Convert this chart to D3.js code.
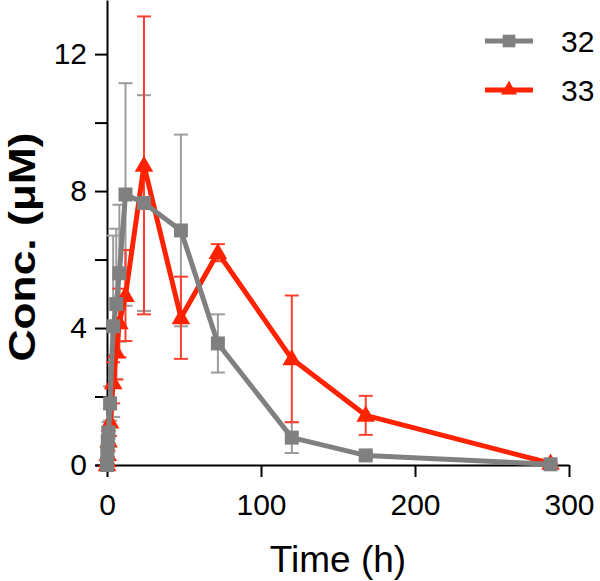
<!DOCTYPE html>
<html><head><meta charset="utf-8">
<script src="https://cdn.jsdelivr.net/npm/d3@7"></script>
<style>body{margin:0;background:#fff}svg{display:block}text{font-family:"Liberation Sans",Arial,sans-serif}</style>
</head><body><svg id="c" width="600" height="581"></svg>
<script>
const times = [0, 0.25, 0.5, 1, 2, 4, 6, 8, 12, 24, 48, 72, 120, 168, 288];
const conc32 = [0, 0.35, 0.7, 0.95, 1.8, 4.05, 4.7, 5.6, 7.9, 7.65, 6.85, 3.55, 0.8, 0.28, 0.02];
const sd32 = [0, 0.1, 0.3, 0.3, 0.5, 2.65, 2.2, 2.0, 3.25, 3.15, 2.8, 0.85, 0.45, 0.1, 0.02];
const conc33 = [0, 0.12, 0.3, 0.7, 1.25, 2.4, 3.3, 4.15, 4.95, 8.75, 4.3, 6.2, 3.1, 1.45, 0.05];
const sd33 = [0, 0.05, 0.15, 0.3, 0.4, 0.6, 0.8, 1.0, 1.33, 4.35, 1.2, 0.25, 1.85, 0.57, 0.02];
const xTicks = [0, 100, 200, 300];
const yTicks = [0, 2, 4, 6, 8, 10, 12];
const yLabels = [0, 4, 8, 12];
const seriesNames = ["32", "33"];

const svg = d3.select("#c");
const x = d3.scaleLinear().domain([-7.8, 300]).range([95, 569]);
const y = d3.scaleLinear().domain([0, 13.58]).range([465, 0]);

const series = [
  {name: seriesNames[0], c: conc32, sd: sd32, line: "#808080", err: "#9c9c9c", shape: d3.symbolSquare, size: 196},
  {name: seriesNames[1], c: conc33, sd: sd33, line: "#ff2200", err: "#ff4030", shape: d3.symbolTriangle, size: 150}
];

// axes
const xAxis = svg.append("g").attr("transform", "translate(0,465)")
  .call(d3.axisBottom(x).tickValues(xTicks).tickSize(12).tickSizeOuter(0).tickPadding(17));
const yAxis = svg.append("g").attr("transform", "translate(107,0)")
  .call(d3.axisLeft(y).tickValues(yTicks).tickSize(12).tickSizeOuter(0).tickPadding(8)
    .tickFormat(d => yLabels.includes(d) ? d : ""));
[xAxis, yAxis].forEach(g => {
  g.selectAll("path,line").attr("stroke", "#000").attr("stroke-width", 2);
  g.selectAll("text").attr("fill", "#000").style("font-size", "30px");
});

// error bars
series.forEach(s => {
  const g = svg.append("g").attr("stroke", s.err).attr("stroke-width", 2).attr("fill", "none");
  times.forEach((t, i) => {
    if (s.sd[i] <= 0) return;
    const cx = x(t), y1 = y(s.c[i] + s.sd[i]), y2 = y(Math.max(0, s.c[i] - s.sd[i]));
    g.append("line").attr("x1", cx).attr("x2", cx).attr("y1", y1).attr("y2", y2);
    g.append("line").attr("x1", cx - 7).attr("x2", cx + 7).attr("y1", y1).attr("y2", y1);
    g.append("line").attr("x1", cx - 7).attr("x2", cx + 7).attr("y1", y2).attr("y2", y2);
  });
});

// lines + markers (33 first, 32 on top)
[series[1], series[0]].forEach(s => {
  const line = d3.line().x((d, i) => x(times[i])).y(d => y(d));
  svg.append("path").datum(s.c).attr("d", line).attr("fill", "none")
    .attr("stroke", s.line).attr("stroke-width", 5).attr("stroke-linejoin", "round");
  svg.append("g").selectAll("path").data(s.c).join("path")
    .attr("transform", (d, i) => `translate(${x(times[i])},${y(d) + (s.shape === d3.symbolTriangle ? 1 : 0)})`)
    .attr("d", d3.symbol().type(s.shape).size(s.size)).attr("fill", s.line);
});

// legend
series.forEach((s, i) => {
  const ly = 41 + i * 49;
  svg.append("line").attr("x1", 485).attr("x2", 533).attr("y1", ly).attr("y2", ly)
    .attr("stroke", s.line).attr("stroke-width", 5);
  svg.append("path").attr("transform", `translate(509,${ly})`)
    .attr("d", d3.symbol().type(s.shape).size(i ? 110 : 160)).attr("fill", s.line);
  svg.append("text").attr("x", 561).attr("y", ly + 11).style("font-size", "30px").text(s.name);
});

// titles
svg.append("text").attr("x", 338).attr("y", 572).attr("text-anchor", "middle")
  .style("font-size", "37px").text("Time (h)");
svg.append("text").attr("transform", "translate(35,247) rotate(-90)").attr("text-anchor", "middle")
  .attr("textLength", 229).attr("lengthAdjust", "spacingAndGlyphs")
  .style("font-size", "37px").style("font-weight", "bold").text("Conc. (μM)");
</script></body></html>
